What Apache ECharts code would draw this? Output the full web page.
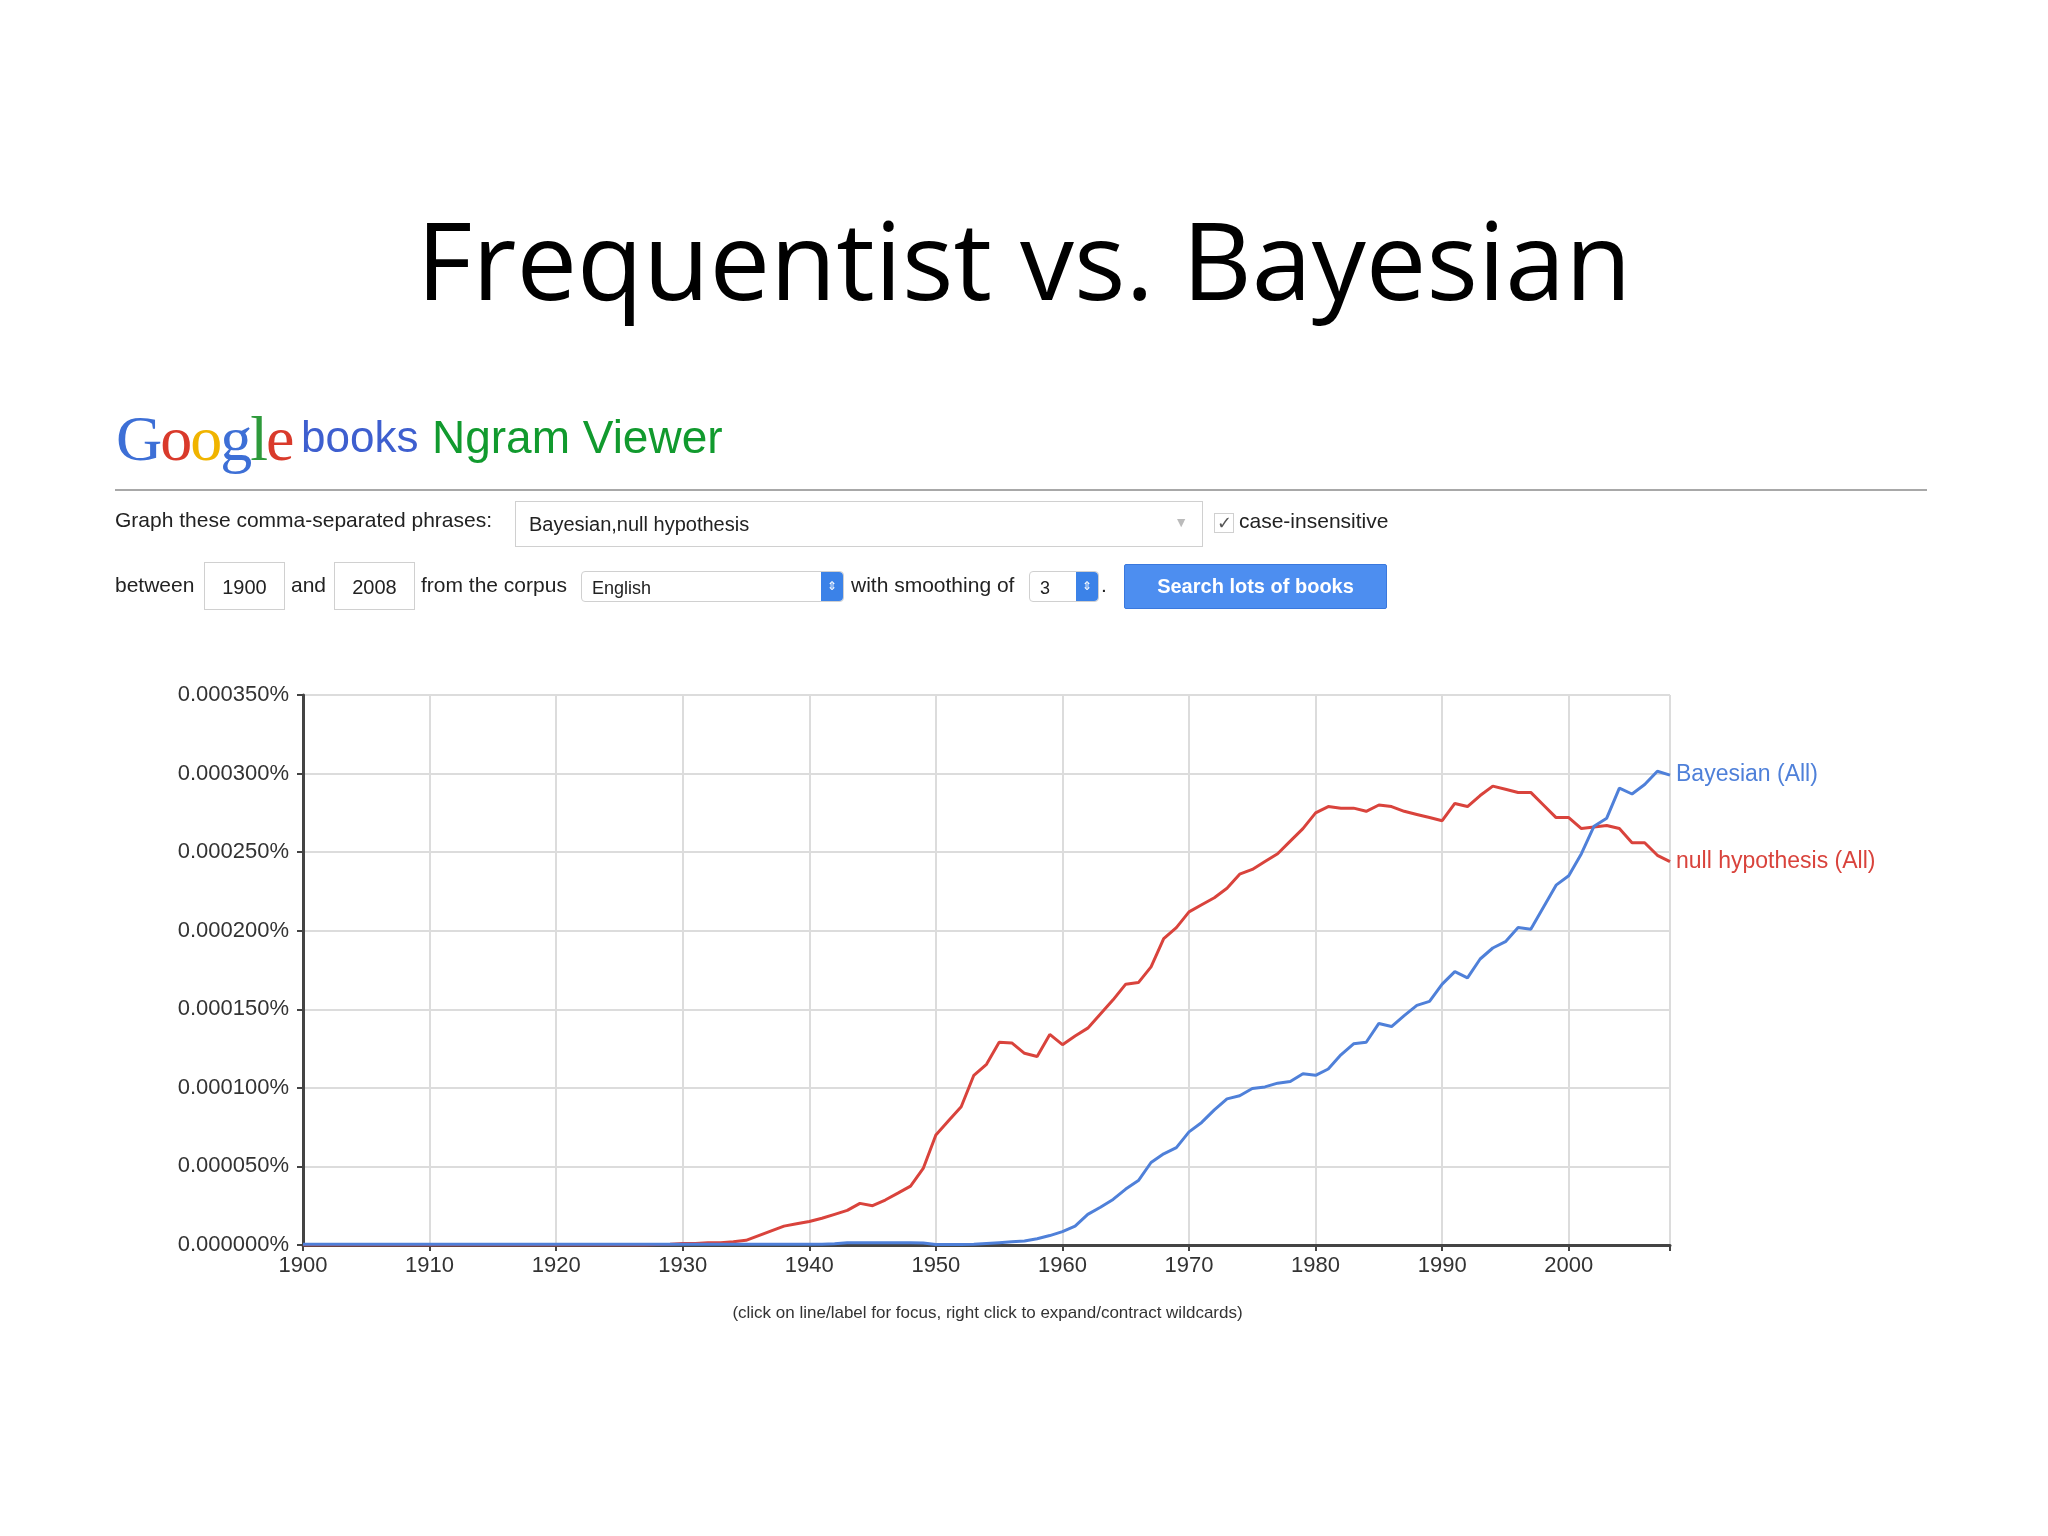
<!DOCTYPE html>
<html>
<head>
<meta charset="utf-8">
<script src="https://cdn.jsdelivr.net/npm/echarts@6/dist/echarts.min.js"></script>
<style>
  body { margin: 0; background: #fff; }
  #page { position: relative; width: 2048px; height: 1536px; overflow: hidden; font-family: "Liberation Sans", Arial, sans-serif; }
  #chart { position: absolute; left: 0; top: 0; width: 2048px; height: 1536px; }
  .abs { position: absolute; white-space: nowrap; }
  .box { position: absolute; border: 1px solid #d0d0d0; background: #fff; box-sizing: border-box; font-size: 20px; color: #222; }
</style>
</head>
<body>
<div id="page">
  <div id="chart"></div>
  <div class="abs" style="left:0;width:2048px;top:185px;text-align:center;font-family:'Open Sans',sans-serif;font-size:108px;color:#000;">Frequentist vs. Bayesian</div>

  <div class="abs" style="left:116px;top:402px;font-family:'Liberation Serif',serif;font-size:64px;letter-spacing:-2px;">
    <span style="color:#3d6fd6">G</span><span style="color:#d93a2b">o</span><span style="color:#f0b400">o</span><span style="color:#3d6fd6">g</span><span style="color:#2e9a3b">l</span><span style="color:#d93a2b">e</span>
  </div>
  <div class="abs" style="left:301px;top:412px;font-size:44px;color:#3e5fcf;">books</div>
  <div class="abs" style="left:432px;top:410px;font-size:46px;color:#119a2e;">Ngram Viewer</div>
  <div class="abs" style="left:115px;top:489px;width:1812px;height:2px;background:#a8a8a8;"></div>

  <div class="abs" style="left:115px;top:508px;font-size:21px;color:#222;">Graph these comma-separated phrases:</div>
  <div class="box" style="left:515px;top:501px;width:688px;height:46px;padding:11px 13px;">Bayesian,null hypothesis<span style="position:absolute;right:14px;top:12px;color:#bbb;font-size:14px;">&#9660;</span></div>
  <div class="box" style="left:1214px;top:513px;width:20px;height:20px;font-size:18px;line-height:18px;text-align:center;color:#555;">&#10003;</div>
  <div class="abs" style="left:1239px;top:509px;font-size:21px;color:#222;">case-insensitive</div>

  <div class="abs" style="left:115px;top:573px;font-size:21px;color:#222;">between</div>
  <div class="box" style="left:204px;top:562px;width:81px;height:48px;padding:13px 0;text-align:center;">1900</div>
  <div class="abs" style="left:291px;top:573px;font-size:21px;color:#222;">and</div>
  <div class="box" style="left:334px;top:562px;width:81px;height:48px;padding:13px 0;text-align:center;">2008</div>
  <div class="abs" style="left:421px;top:573px;font-size:21px;color:#222;">from the corpus</div>
  <div class="box" style="left:581px;top:571px;width:263px;height:31px;padding:6px 10px;font-size:18px;border-radius:4px;">English<span style="position:absolute;right:0;top:0;width:22px;height:29px;background:#3b82e8;border-radius:0 4px 4px 0;color:#fff;font-size:12px;text-align:center;line-height:29px;">&#8661;</span></div>
  <div class="abs" style="left:851px;top:573px;font-size:21px;color:#222;">with smoothing of</div>
  <div class="box" style="left:1029px;top:571px;width:70px;height:31px;padding:6px 10px;font-size:18px;border-radius:4px;">3<span style="position:absolute;right:0;top:0;width:22px;height:29px;background:#3b82e8;border-radius:0 4px 4px 0;color:#fff;font-size:12px;text-align:center;line-height:29px;">&#8661;</span></div>
  <div class="abs" style="left:1101px;top:573px;font-size:21px;color:#222;">.</div>
  <div class="abs" style="left:1124px;top:564px;width:261px;height:43px;background:#4d8ef0;border:1px solid #3a78dd;border-radius:2px;color:#fff;font-weight:bold;font-size:20px;text-align:center;line-height:43px;">Search lots of books</div>

  <div class="abs" style="left:0;width:1975px;top:1303px;text-align:center;font-size:17px;color:#333;">(click on line/label for focus, right click to expand/contract wildcards)</div>
</div>
<script>
// values in units of 1e-6 percent
const years = [];
for (let y = 1900; y <= 2008; y++) years.push(y);

const nullHyp = [
  0,0,0,0,0,0,0,0,0,0,
  0,0,0,0,0,0,0,0,0,0,
  0,0,0,0,0,0,0,0,0.3,0.5,
  1,1,1.5,1.5,2,3,6,9,12,13.5,
  15,17,19.5,22,26.5,25,28.6,33,37.5,48.7,
  70,79,88,108,115,129,128.6,122,120,134,
  127.5,133,138,147,156,166,167,177,195,202,
  212,216.5,221,227,236,239,244,249,257,265,
  275,279,278,278,276,280,279,276,274,272,
  270,281,279,286,292,290,288,288,280,272,
  272,265,266,267,265,256,256,248,244
];

const bayesian = [
  0.5,0.5,0.5,0.5,0.5,0.5,0.5,0.5,0.5,0.5,
  0.5,0.5,0.5,0.5,0.5,0.5,0.5,0.5,0.5,0.5,
  0.5,0.5,0.5,0.5,0.5,0.5,0.5,0.5,0.5,0.5,
  0.5,0.5,0.5,0.5,0.5,0.5,0.5,0.5,0.5,0.5,
  0.5,0.5,0.8,1.5,1.5,1.5,1.5,1.5,1.5,1.3,
  0.3,0.3,0.3,0.5,1,1.5,2,2.5,4,6,
  8.5,12,19.5,24,29,35.6,41,52.5,58,62,
  72,78,86,93,95,99.6,100.6,103,104,109,
  108,112,121,128,129,141,139,146,152.5,155,
  166,174,170,182,189,193,202,201,215,229,
  235,249,266.5,271.6,290.7,287,293,301.5,299
];

const yTicks = [0, 50, 100, 150, 200, 250, 300, 350];

const chart = echarts.init(document.getElementById('chart'));
const pair = arr => years.map((y, i) => [y, arr[i]]);
const font = '"Liberation Sans", Arial, sans-serif';

chart.setOption({
  animation: false,
  grid: { left: 303, right: 2048 - 1670, top: 695, bottom: 1536 - 1245 },
  xAxis: {
    type: 'value', min: 1900, max: 2008, interval: 10,
    axisLine: { lineStyle: { color: '#444', width: 3 } },
    axisTick: { show: true, length: 6, lineStyle: { color: '#444', width: 2 } },
    axisLabel: { color: '#333', fontSize: 22, fontFamily: font, margin: 10,
      formatter: v => (v % 10 === 0 ? String(v) : '') },
    splitLine: { show: true, lineStyle: { color: '#dcdcdc', width: 2 } }
  },
  yAxis: {
    type: 'value', min: 0, max: 350, interval: 50,
    axisLine: { show: true, lineStyle: { color: '#444', width: 3 } },
    axisTick: { show: true, length: 6, lineStyle: { color: '#444', width: 2 } },
    axisLabel: { color: '#333', fontSize: 22, fontFamily: font, margin: 14,
      formatter: v => yTicks.includes(v) ? (v * 1e-6).toFixed(6) + '%' : '' },
    splitLine: { show: true, lineStyle: { color: '#dcdcdc', width: 2 } }
  },
  series: [
    {
      name: 'Bayesian (All)', type: 'line', data: pair(bayesian), showSymbol: false,
      lineStyle: { color: '#4f80d9', width: 3 }, itemStyle: { color: '#4f80d9' },
      endLabel: { show: true, formatter: '{a}', color: '#4f80d9', fontSize: 23, fontFamily: font, distance: 6 },
      z: 3
    },
    {
      name: 'null hypothesis (All)', type: 'line', data: pair(nullHyp), showSymbol: false,
      lineStyle: { color: '#d9433c', width: 3 }, itemStyle: { color: '#d9433c' },
      endLabel: { show: true, formatter: '{a}', color: '#d9433c', fontSize: 23, fontFamily: font, distance: 6 },
      z: 2
    }
  ]
});
</script>
</body>
</html>
